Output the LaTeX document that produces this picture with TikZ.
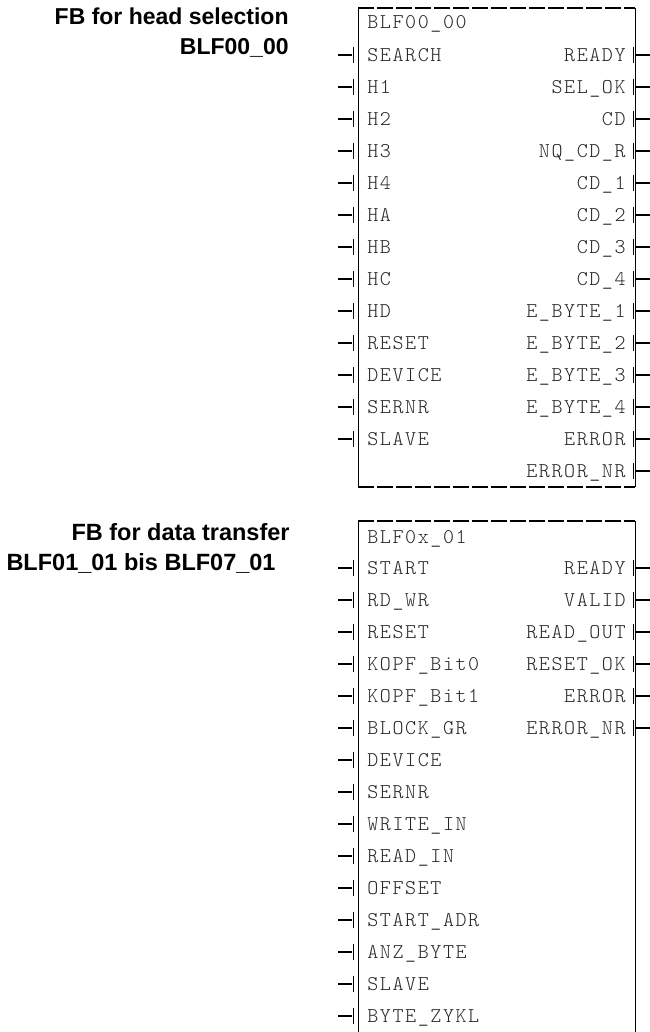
\documentclass[tikz,border=0pt]{standalone}
\usepackage{fontspec}
\newfontfamily\titlefont{Liberation Sans}
\newfontfamily\pinfont{lmmonolt10-regular}[Extension=.otf,LetterSpace=7.5]
\usetikzlibrary{calc}
\tikzset{
  fbtitle/.style={font={\titlefont\bfseries\fontsize{11.5pt}{13pt}\selectfont},inner sep=0pt,anchor=base east},
  pinlabel/.style={font={\pinfont\fontsize{10.5pt}{12pt}\selectfont},
                   text=black!85,inner ysep=0pt,text height=6.4pt,text depth=0pt},
  inpin/.style={pinlabel,anchor=west,inner xsep=4.5pt},
  outpin/.style={pinlabel,anchor=east,inner xsep=4.5pt},
  fbframe/.style={line width=0.5pt},
  fbedge/.style={line width=1pt,dash pattern=on 8pt off 1.5pt},
  wire/.style={line width=1pt},
  tick/.style={line width=0.5pt},
}

\begin{document}
\begin{tikzpicture}[x=0.5pt,y=-0.5pt]
  \useasboundingbox (0,0) rectangle (649,1032);
  % titles on the left
  \node[fbtitle] (hsel) at (289,25) {FB for head selection};
  \node[fbtitle] (hselname) at (289,55) {BLF00\_00};
  \node[fbtitle,font={\titlefont\bfseries\fontsize{11.75pt}{13pt}\selectfont}] (xfer) at (290,540) {FB for data transfer};
  \node[fbtitle,font={\titlefont\bfseries\fontsize{11.75pt}{13pt}\selectfont}] (xfername) at (276,570) {BLF01\_01 bis BLF07\_01};
  % block BLF00_00
  \coordinate (a-nw) at (358,8);
  \coordinate (a-se) at (635,487);
  \draw[fbedge] (a-nw) -- (a-nw -| a-se);
  \draw[fbedge] (a-nw |- a-se) -- (a-se);
  \draw[fbframe] (a-nw) -- (a-nw |- a-se);
  \draw[fbframe] (a-nw -| a-se) -- (a-se);
  \node[pinlabel,anchor=base west,inner sep=0pt] (a-name) at (367,29) {BLF00\_00};
  \foreach \txt [count=\k] in {SEARCH,H1,H2,H3,H4,HA,HB,HC,HD,RESET,DEVICE,SERNR,SLAVE} {
    \node[inpin] (a-in\k) at (358,{23+32*\k}) {\txt};
    \draw[wire] ($(a-in\k.west)+(-6,0)$) -- ++(-14,0);
    \draw[tick] ($(a-in\k.west)+(-5,-8)$) -- ++(0,16);
  }
  \foreach \txt [count=\k] in {READY,SEL\_OK,CD,NQ\_CD\_R,CD\_1,CD\_2,CD\_3,CD\_4,
      E\_BYTE\_1,E\_BYTE\_2,E\_BYTE\_3,E\_BYTE\_4,ERROR,ERROR\_NR} {
    \node[outpin] (a-out\k) at (635,{23+32*\k}) {\txt};
    \draw[tick] ($(a-out\k.east)+(-2,-8)$) -- ++(0,16);
    \draw[wire] ($(a-out\k.east)+(1,0)$) -- ++(14,0);
  }
  % block BLF0x_01
  \coordinate (b-nw) at (358,521);
  \coordinate (b-se) at (635,1032);
  \draw[fbedge] (b-nw) -- (b-nw -| b-se);
  \draw[fbframe] (b-nw) -- (b-nw |- b-se);
  \draw[fbframe] (b-nw -| b-se) -- (b-se);
  \node[pinlabel,anchor=base west,inner sep=0pt] (b-name) at (367,543) {BLF0x\_01};
  \foreach \txt [count=\k] in {START,RD\_WR,RESET,KOPF\_Bit0,KOPF\_Bit1,BLOCK\_GR,DEVICE,SERNR,
      WRITE\_IN,READ\_IN,OFFSET,START\_ADR,ANZ\_BYTE,SLAVE,BYTE\_ZYKL} {
    \node[inpin] (b-in\k) at (358,{536+32*\k}) {\txt};
    \draw[wire] ($(b-in\k.west)+(-6,0)$) -- ++(-14,0);
    \draw[tick] ($(b-in\k.west)+(-5,-8)$) -- ++(0,16);
  }
  \foreach \txt [count=\k] in {READY,VALID,READ\_OUT,RESET\_OK,ERROR,ERROR\_NR} {
    \node[outpin] (b-out\k) at (635,{536+32*\k}) {\txt};
    \draw[tick] ($(b-out\k.east)+(-2,-8)$) -- ++(0,16);
    \draw[wire] ($(b-out\k.east)+(1,0)$) -- ++(14,0);
  }
\end{tikzpicture}
\end{document}
